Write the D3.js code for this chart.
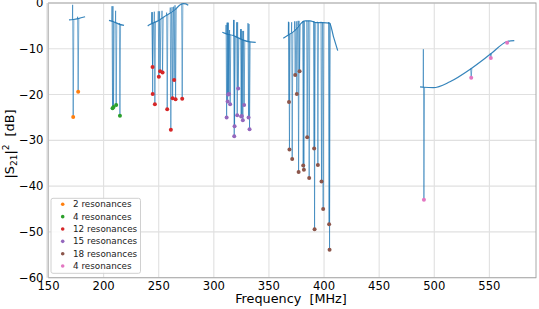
<!DOCTYPE html>
<html lang="en">
<head>
    <meta charset="UTF-8">
    <title>Resonances |S21|^2</title>
    <script src="https://cdn.jsdelivr.net/npm/d3@7"></script>
    <style>
        body {
            margin: 0;
            background: #fff;
            font-family: 'DejaVu Sans', sans-serif;
        }
        .grid line {
            stroke: #e0e0e0;
            stroke-width: 1.1;
        }
        .tick-label {
            font-size: 11.6px;
            fill: #000;
        }
        .axis-title {
            font-size: 12.8px;
            fill: #000;
        }
        .legend text {
            font-size: 8.8px;
            fill: #222;
        }
    </style>
</head>
<body>
    <svg id="chart" width="539" height="309"></svg>

    <script>
        const width = 539;
        const height = 309;

        // tick values
        const xTicks = [150, 200, 250, 300, 350, 400, 450, 500, 550];
        const yTicks = [0, -10, -20, -30, -40, -50, -60];

        // legend labels and marker colours, one per resonator group
        const groupLabels = ["2 resonances", "4 resonances", "12 resonances",
                             "15 resonances", "18 resonances", "4 resonances"];
        const groupColors = ["#ff7f0e", "#2ca02c", "#d62728", "#9467bd", "#8c564b", "#e377c2"];

        // resonance frequencies [MHz] per group
        const resFreq = [
            [172.5, 177.0],
            [208.2, 209.1, 211.5, 214.9],
            [244.5, 244.6, 246.6, 250.2, 251.4, 253.6, 257.8, 261.1, 262.7, 264.1, 265.4, 271.4],
            [311.7, 312.6, 313.1, 313.8, 314.9, 318.6, 318.9, 321.3, 322.2, 324.9, 325.5, 326.4, 327.6, 331.6, 332.5],
            [368.3, 368.7, 371.2, 373.9, 375.4, 377.0, 377.9, 381.2, 381.8, 384.8, 386.6, 391.1, 391.5, 394.5, 397.8, 399.3, 404.7, 405.1],
            [490.7, 533.6, 551.4, 566.2]
        ];

        // depth of each dip [dB] (marker position)
        const resDip = [
            [-24.9, -19.4],
            [-23.0, -22.7, -22.3, -24.6],
            [-14.0, -19.9, -22.1, -16.1, -14.9, -15.2, -23.2, -27.7, -20.8, -16.8, -21.0, -20.9],
            [-25.0, -21.5, -20.0, -19.9, -22.1, -29.1, -26.9, -24.5, -18.7, -24.8, -24.7, -25.6, -22.3, -25.0, -27.6],
            [-21.6, -32.0, -34.1, -15.7, -19.9, -36.9, -14.9, -35.5, -36.4, -29.3, -38.2, -31.8, -49.4, -35.4, -39.0, -45.0, -48.3, -53.9],
            [-43.0, -16.3, -12.0, -8.7]
        ];

        // top of the spike just before each dip [dB]
        const resPeak = [
            [-0.4, -3.0],
            [-0.7, -0.7, -1.7, -4.4],
            [-2.0, -2.0, -1.9, -1.8, -1.8, -1.7, -2.1, -1.0, -0.9, -0.8, -0.5, -0.2],
            [-4.8, -4.3, -4.3, -4.3, -5.9, -3.7, -3.7, -4.2, -4.2, -5.7, -5.7, -6.1, -6.1, -4.4, -4.6],
            [-4.1, -4.2, -4.2, -4.0, -4.0, -3.9, -3.9, -4.0, -3.9, -3.9, -3.9, -4.0, -4.0, -4.1, -4.1, -4.2, -4.2, -4.3],
            [-10.1, -14.3, -11.0, -8.4]
        ];

        // off-resonance transmission for each group, [MHz, dB]
        const baseline = [
            [[168.6, -3.7], [172.5, -3.6], [177.0, -3.4], [183.2, -3.0]],
            [[204.9, -3.8], [209.0, -4.1], [214.0, -4.6], [218.5, -4.9]],
            [[240.0, -5.0], [242.0, -4.7], [250.0, -3.8], [257.0, -2.7], [265.0, -1.4], [269.5, -0.4], [272.3, -0.15], [274.5, -0.2], [276.8, -0.5]],
            [[307.7, -6.4], [312.0, -6.8], [317.6, -7.1], [322.0, -7.6], [326.7, -8.1], [332.8, -8.5], [338.0, -8.6]],
            [[363.0, -7.7], [367.6, -7.0], [372.1, -6.3], [376.6, -5.2], [379.7, -4.3], [382.7, -3.9], [387.2, -3.9], [393.3, -4.3], [399.0, -4.3], [405.0, -4.4], [408.6, -7.4], [412.4, -10.4]],
            [[487.1, -18.3], [490.7, -18.4], [499.1, -18.5], [514.2, -17.2], [533.6, -14.3], [551.4, -11.1], [566.2, -8.4], [572.6, -8.2]]
        ];

        const svg = d3.select("#chart");

        const x = d3.scaleLinear().domain([150, 592.3]).range([48.5, 536]);
        const y = d3.scaleLinear().domain([-60, 0]).range([277.7, 3]);

        // grid
        const grid = svg.append("g").attr("class", "grid");
        grid.selectAll(".vx").data(xTicks).join("line")
            .attr("x1", d => x(d)).attr("x2", d => x(d))
            .attr("y1", y(0)).attr("y2", y(-60));
        grid.selectAll(".hy").data(yTicks).join("line")
            .attr("x1", x(150)).attr("x2", 536)
            .attr("y1", d => y(d)).attr("y2", d => y(d));

        // frame
        svg.append("rect")
            .attr("x", x(150)).attr("y", y(0))
            .attr("width", 536 - x(150)).attr("height", y(-60) - y(0))
            .attr("fill", "none").attr("stroke", "#a8a8a8").attr("stroke-width", 1);
        svg.append("line")
            .attr("x1", x(150) - 1).attr("x2", x(150) - 1)
            .attr("y1", y(0)).attr("y2", y(-60))
            .attr("stroke", "#d8d8d8").attr("stroke-width", 2);

        const plot = svg.append("g");

        const baseLine = d3.line()
            .x(d => x(d[0])).y(d => y(d[1]))
            .curve(d3.curveMonotoneX);
        const spikeLine = d3.line()
            .x(d => x(d[0])).y(d => y(d[1]));

        // baseline value at a frequency, linear interpolation of the group baseline
        function baseAt(g, f) {
            const pts = baseline[g];
            for (let i = 1; i < pts.length; i++) {
                if (f <= pts[i][0]) {
                    const t = (f - pts[i - 1][0]) / (pts[i][0] - pts[i - 1][0]);
                    return pts[i - 1][1] + t * (pts[i][1] - pts[i - 1][1]);
                }
            }
            return pts[pts.length - 1][1];
        }

        // traces
        baseline.forEach((pts, g) => {
            plot.append("path")
                .attr("d", baseLine(pts))
                .attr("fill", "none")
                .attr("stroke", "#1f77b4")
                .attr("stroke-opacity", 0.9)
                .attr("stroke-width", 1.2);

            resFreq[g].forEach((f, i) => {
                const b = baseAt(g, f);
                const spike = [
                    [f - 0.8, b],
                    [f - 0.6, resPeak[g][i]],
                    [f - 0.1, resDip[g][i]],
                    [f + 0.5, b]
                ];
                plot.append("path")
                    .attr("d", spikeLine(spike))
                    .attr("fill", "none")
                    .attr("stroke", "#1f77b4")
                    .attr("stroke-opacity", 0.6)
                    .attr("stroke-width", 1);
            });
        });

        // resonance markers
        resFreq.forEach((freqs, g) => {
            plot.append("g").selectAll("circle")
                .data(freqs.map((f, i) => [f, resDip[g][i]]))
                .join("circle")
                .attr("cx", d => x(d[0]) - 0.1)
                .attr("cy", d => y(d[1]))
                .attr("r", 2)
                .attr("fill", groupColors[g]);
        });

        // tick labels
        svg.append("g").selectAll("text").data(xTicks).join("text")
            .attr("class", "tick-label")
            .attr("x", d => x(d)).attr("y", 289.5)
            .attr("text-anchor", "middle")
            .text(d => d);
        svg.append("g").selectAll("text").data(yTicks).join("text")
            .attr("class", "tick-label")
            .attr("x", 43.5).attr("y", d => y(d))
            .attr("dy", "0.35em")
            .attr("text-anchor", "end")
            .text(d => d === 0 ? "0" : "\u2212" + Math.abs(d));

        // axis titles
        svg.append("text")
            .attr("class", "axis-title")
            .attr("x", 291).attr("y", 302.5)
            .attr("text-anchor", "middle")
            .attr("xml:space", "preserve")
            .text("Frequency  [MHz]");

        const yTitle = svg.append("text")
            .attr("class", "axis-title")
            .attr("transform", "translate(14,144) rotate(-90)")
            .attr("text-anchor", "middle")
            .attr("xml:space", "preserve");
        yTitle.append("tspan").text("|S");
        yTitle.append("tspan").attr("font-size", "9px").attr("dy", 3).text("21");
        yTitle.append("tspan").attr("dy", -3).text("|");
        yTitle.append("tspan").attr("font-size", "9px").attr("dy", -5).text("2");
        yTitle.append("tspan").attr("dy", 5).text("  [dB]");

        // legend
        const legend = svg.append("g").attr("class", "legend");
        legend.append("rect")
            .attr("x", 51).attr("y", 198.3)
            .attr("width", 89.5).attr("height", 75)
            .attr("rx", 2)
            .attr("fill", "#fff").attr("fill-opacity", 0.85)
            .attr("stroke", "#d0d0d0");
        const rows = legend.selectAll(".row").data(groupLabels).join("g")
            .attr("transform", (d, i) => `translate(0,${204.3 + i * 12.35})`);
        rows.append("circle")
            .attr("cx", 62.7).attr("cy", 0).attr("r", 1.8)
            .attr("fill", (d, i) => groupColors[i]);
        rows.append("text")
            .attr("x", 73).attr("y", 0).attr("dy", "0.35em")
            .text(d => d);
    </script>
</body>
</html>
